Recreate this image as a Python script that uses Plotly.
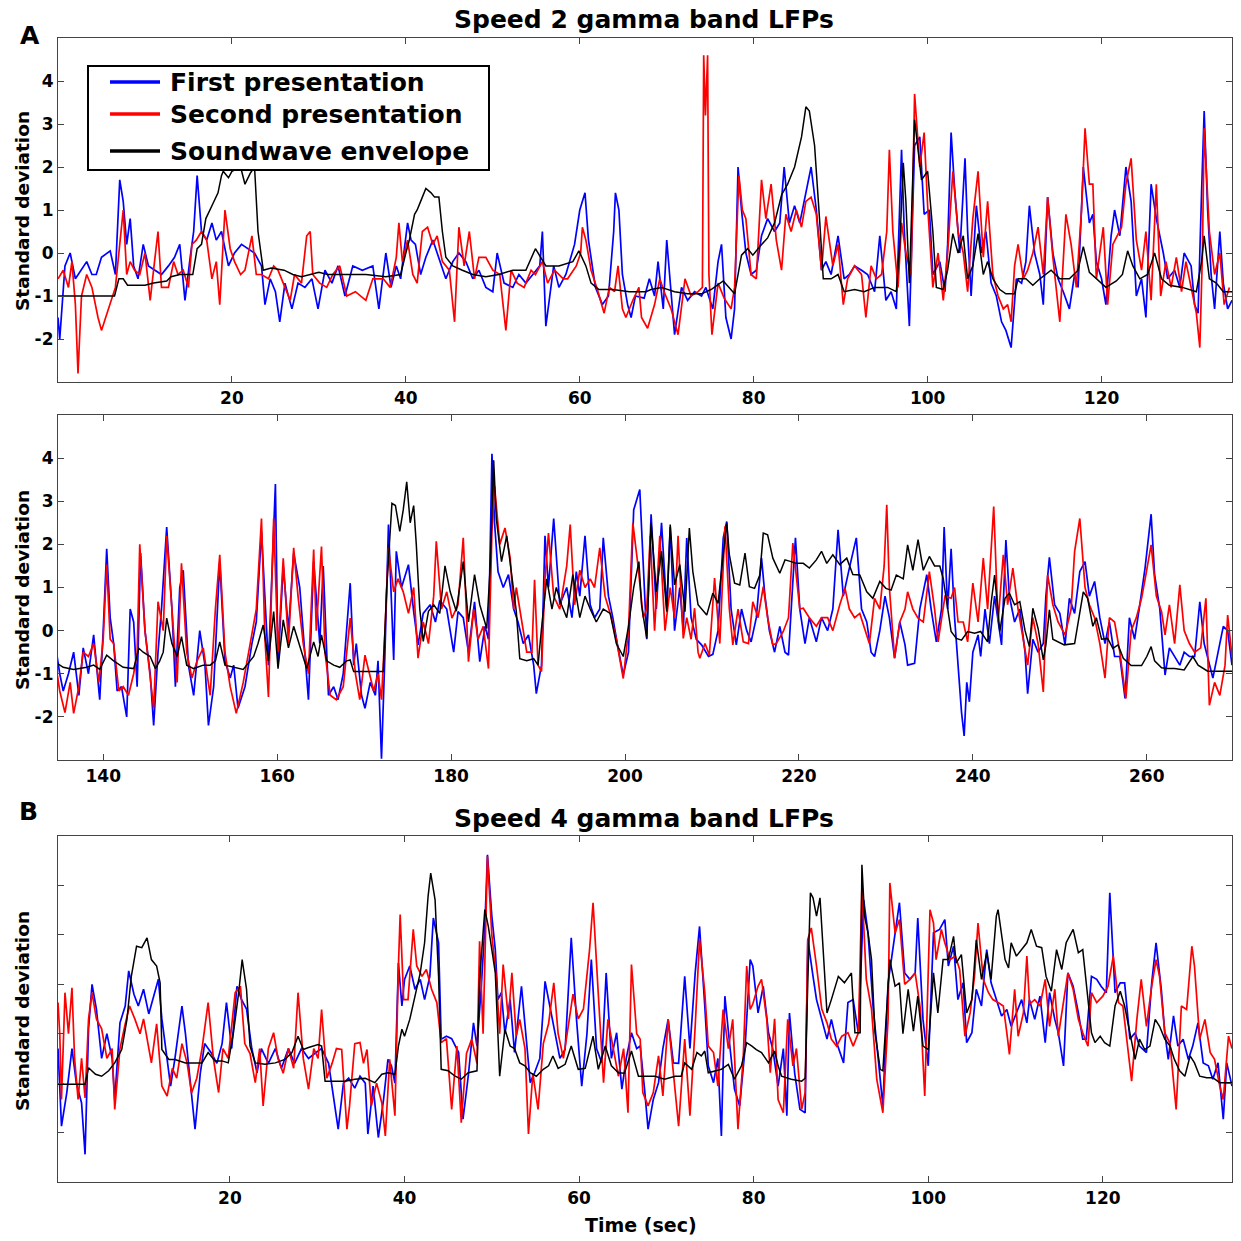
import plotly.graph_objects as go

# ---------------- data (time in sec, value in standard deviations) ----------------
S2A_BLUE = [(0.0,-1.5),(0.2,-2.0),(0.8,-0.3),(1.4,0.0),(2.0,-0.6),(2.7,-0.4),(3.3,-0.2),(3.9,-0.5),(4.4,-0.5),(5.0,-0.1),(6.0,0.05),(6.6,-0.5),(7.1,1.7),(7.5,1.2),(7.9,0.2),(8.3,0.8),(8.7,-0.3),(9.2,-0.6),(9.8,0.2),(10.4,-0.3),(11.1,-0.4),(11.9,-0.5),(12.7,-0.3),(13.4,-0.1),(14.0,0.2),(14.6,-1.1),(15.2,-0.1),(15.6,0.5),(16.0,1.8),(16.5,0.5),(17.1,0.3),(17.7,0.7),(18.2,0.3),(18.8,0.5),(19.6,-0.3),(20.3,0.0),(21.1,0.2),(21.9,0.1),(22.6,0.0),(23.4,-0.3),(23.8,-1.2),(24.4,-0.6),(25.0,-0.9),(25.5,-1.6),(26.1,-0.7),(26.9,-1.3),(27.6,-0.7),(28.4,-0.8),(29.2,-0.6),(29.9,-1.3),(30.7,-0.4),(31.5,-0.7),(32.2,-0.3),(33.0,-1.0),(33.9,-0.3),(35.0,-0.4),(36.2,-0.3),(36.9,-1.3),(37.7,0.0),(38.3,-0.8),(38.9,-0.3),(39.4,-0.6),(40.2,0.7),(40.6,0.3),(41.1,0.2),(41.7,-0.5),(42.3,-0.1),(43.1,0.3),(43.8,-0.1),(44.6,-0.6),(45.4,-0.2),(46.1,0.0),(46.9,-0.2),(47.7,-0.6),(48.4,-0.4),(49.2,-0.8),(50.0,-0.9),(50.5,0.0),(51.3,-0.7),(52.3,-0.8),(53.0,-0.5),(53.8,-0.7),(54.6,-0.5),(55.4,-0.3),(55.7,0.5),(56.1,-1.7),(57.0,-0.3),(57.6,-0.8),(58.4,-0.5),(59.4,0.2),(60.0,1.0),(60.6,1.4),(61.0,0.3),(61.8,-0.8),(62.6,-1.2),(63.3,-1.0),(63.9,0.5),(64.1,1.4),(64.5,1.0),(64.9,-0.5),(65.5,-1.2),(65.9,-1.5),(66.4,-1.0),(67.4,-1.05),(68.0,-0.6),(68.6,-1.0),(69.0,-0.2),(69.6,-1.3),(70.0,0.3),(70.5,-1.0),(70.9,-1.9),(71.7,-0.8),(72.4,-1.1),(73.2,-0.9),(74.0,-1.0),(74.5,-0.8),(75.3,-1.3),(75.9,-0.2),(76.3,0.2),(76.8,-1.5),(77.4,-2.0),(77.8,-1.3),(78.2,2.0),(78.6,1.0),(79.1,0.0),(79.7,-0.5),(80.3,-0.4),(80.9,0.4),(81.6,0.8),(82.4,0.5),(83.0,0.7),(83.5,2.0),(84.1,0.7),(84.7,1.1),(85.3,0.7),(85.8,1.2),(86.6,2.0),(87.2,1.0),(87.8,-0.4),(88.3,-0.2),(88.9,-0.5),(89.7,0.4),(90.4,-0.6),(91.0,-0.5),(91.6,-0.3),(92.4,-0.4),(93.1,-0.5),(93.9,-0.9),(94.5,0.4),(95.2,-1.1),(95.8,-0.9),(96.4,-1.3),(97.0,2.4),(97.3,0.6),(97.9,-1.7),(98.5,2.5),(99.1,2.7),(99.6,0.9),(100.2,1.0),(100.6,-0.5),(101.4,-0.2),(102.0,-0.9),(102.3,0.2),(102.7,2.8),(103.1,1.5),(103.7,0.0),(104.3,2.2),(104.6,0.5),(105.0,-1.0),(105.6,1.1),(106.2,0.0),(106.7,0.5),(107.3,-0.7),(107.9,-1.0),(108.5,-1.6),(109.0,-1.8),(109.6,-2.2),(110.2,-0.6),(110.8,-0.7),(111.3,-0.2),(111.7,1.1),(112.3,0.0),(112.9,-0.5),(113.3,-1.2),(113.8,1.3),(114.4,0.0),(115.0,-0.6),(115.6,-0.9),(116.3,-1.3),(116.9,-0.5),(117.3,-0.8),(117.9,2.0),(118.6,0.7),(119.0,0.9),(119.4,-0.2),(120.0,-0.6),(120.5,-1.2),(121.1,0.4),(121.5,1.0),(122.1,0.4),(122.8,2.0),(123.4,1.2),(124.0,-1.0),(124.6,-0.6),(125.1,-1.5),(125.7,1.6),(126.3,0.8),(127.1,0.0),(127.6,-0.6),(128.4,-0.4),(129.0,-0.8),(129.5,0.0),(130.3,-0.3),(130.7,-1.2),(131.1,-1.4),(131.5,1.4),(131.8,3.3),(132.2,1.0),(132.6,-0.5),(133.0,-1.3),(133.6,0.5),(134.0,-0.7),(134.5,-1.3),(135.0,-1.1)]

S2A_RED = [(0.0,-0.6),(0.6,-0.4),(1.2,-0.8),(1.6,-0.2),(2.0,-1.2),(2.3,-2.8),(2.7,-1.0),(3.3,-0.5),(3.9,-0.8),(4.6,-1.5),(5.0,-1.8),(5.8,-1.3),(6.6,-0.8),(7.1,0.2),(7.5,1.0),(7.9,-0.5),(8.3,-0.2),(8.8,-0.4),(9.4,-0.5),(10.0,0.0),(10.6,-1.1),(11.1,-0.2),(11.5,0.5),(11.9,-0.8),(12.7,-0.8),(13.3,-0.2),(13.8,-0.5),(14.4,-0.4),(15.0,-0.8),(15.4,0.2),(15.9,0.3),(16.5,0.5),(17.1,0.3),(17.7,-0.6),(18.2,-0.2),(18.6,-1.2),(19.2,1.0),(19.8,0.1),(20.3,-0.2),(21.0,-0.5),(21.5,-0.4),(22.3,0.4),(22.8,-0.5),(23.4,-0.5),(24.2,-0.6),(24.8,-0.3),(25.3,-0.4),(26.1,-0.8),(26.7,-1.1),(27.2,-0.5),(28.0,-0.7),(28.6,0.4),(29.0,0.5),(29.3,-0.5),(30.1,-0.7),(30.9,-0.8),(31.6,-0.5),(32.4,-0.3),(33.2,-1.0),(34.2,-0.9),(35.4,-1.1),(36.2,-0.6),(37.4,-0.6),(38.2,-0.8),(38.9,-0.1),(39.2,0.7),(39.6,-0.2),(40.2,0.3),(40.8,-0.5),(41.3,-0.7),(41.9,0.5),(42.5,0.6),(43.1,0.2),(43.6,0.4),(44.2,-0.2),(45.0,-0.4),(45.6,-1.6),(46.1,0.6),(46.7,-0.3),(47.3,0.5),(47.9,-0.6),(48.4,-0.1),(49.2,-0.1),(50.0,-0.4),(50.8,-0.5),(51.5,-1.8),(52.1,-0.4),(52.8,-0.7),(53.6,-0.8),(54.4,-0.4),(54.9,-0.5),(55.7,-0.2),(56.3,-0.7),(57.1,-0.4),(58.1,-0.6),(58.6,-0.6),(59.6,-0.3),(60.1,0.0),(60.3,0.6),(60.7,0.3),(61.3,-0.4),(62.1,-0.9),(62.8,-1.4),(63.4,-0.8),(64.0,-0.9),(64.4,-0.3),(64.9,-1.3),(65.3,-1.5),(66.1,-1.1),(66.8,-0.8),(67.1,-1.5),(67.8,-1.75),(68.6,-1.2),(69.2,-0.6),(69.7,-0.9),(70.5,-1.3),(71.3,-1.9),(72.1,-0.6),(72.8,-1.0),(73.6,-0.9),(74.1,-0.8),(74.25,4.6),(74.45,3.2),(74.7,4.6),(74.85,-0.5),(75.2,-1.9),(75.9,-0.7),(76.6,-1.05),(77.4,-1.3),(77.8,-0.8),(78.3,1.8),(78.7,1.0),(79.1,0.8),(79.7,-0.5),(80.3,-0.6),(80.9,1.7),(81.4,0.8),(82.0,1.6),(82.6,0.3),(83.2,-0.4),(83.7,0.9),(84.3,0.5),(84.9,1.0),(85.5,0.6),(86.0,1.2),(86.6,1.3),(87.2,0.9),(87.8,-0.4),(88.3,0.85),(89.1,-0.3),(89.7,0.2),(90.3,-1.2),(90.8,-0.6),(91.6,-0.3),(92.4,-0.5),(92.9,-1.5),(93.5,-0.3),(94.1,-0.6),(94.7,-0.5),(95.3,0.5),(95.6,2.4),(96.0,0.5),(96.6,-0.8),(97.0,0.7),(97.5,0.0),(98.1,-0.5),(98.5,3.7),(99.1,2.0),(99.6,2.8),(100.0,1.1),(100.6,-0.8),(101.2,0.0),(101.8,-1.1),(102.3,0.0),(102.9,1.9),(103.5,0.5),(104.1,0.0),(104.6,-0.9),(105.2,0.8),(105.8,1.9),(106.4,-0.1),(106.9,1.2),(107.5,-0.5),(108.1,-1.0),(108.7,-1.3),(109.2,-1.2),(109.6,-1.6),(110.0,-0.3),(110.4,0.2),(111.0,-0.6),(111.5,-0.4),(112.1,0.0),(112.7,0.6),(113.3,-0.5),(113.8,1.3),(114.4,-0.1),(115.2,-1.6),(115.9,0.9),(116.5,0.2),(117.1,-0.8),(117.7,1.0),(118.1,2.9),(118.6,1.6),(119.0,1.6),(119.4,-0.6),(120.2,0.6),(120.7,-1.2),(121.3,0.2),(122.3,0.6),(122.8,1.6),(123.4,2.2),(124.0,0.3),(124.6,-0.4),(125.1,0.5),(125.7,-1.1),(126.3,1.6),(126.8,-1.0),(127.4,-0.2),(128.0,-0.8),(128.6,-0.1),(129.2,-0.9),(129.7,-0.2),(130.3,-0.8),(130.9,-1.4),(131.3,-2.2),(131.6,0.0),(131.8,2.9),(132.4,0.5),(133.0,-0.5),(133.6,0.0),(134.1,-1.2),(134.7,-0.8)]

S2A_ENV = [(0.0,-1.0),(6.5,-1.0),(7.0,-0.6),(7.5,-0.6),(8.0,-0.75),(10.0,-0.75),(11.0,-0.7),(12.5,-0.65),(13.0,-0.55),(14.0,-0.5),(15.5,-0.5),(16.0,0.1),(16.5,0.2),(17.0,0.8),(17.7,1.1),(18.4,1.4),(18.8,1.8),(19.0,1.9),(19.6,1.75),(20.0,1.9),(21.0,2.0),(21.5,1.6),(22.1,1.85),(22.6,2.0),(23.0,0.5),(23.6,-0.4),(24.5,-0.35),(26.0,-0.4),(27.0,-0.5),(28.0,-0.55),(29.0,-0.5),(30.0,-0.45),(31.0,-0.5),(32.0,-0.5),(33.1,-0.5),(35.4,-0.5),(37.7,-0.55),(39.4,-0.5),(40.0,0.0),(40.4,0.3),(41.0,0.9),(41.3,1.0),(41.7,1.2),(42.3,1.5),(42.9,1.4),(43.3,1.3),(43.8,1.3),(44.2,0.5),(44.6,-0.1),(45.4,-0.3),(46.5,-0.4),(47.7,-0.5),(49.2,-0.55),(50.7,-0.5),(52.3,-0.4),(53.8,-0.4),(54.9,0.1),(56.1,-0.3),(57.6,-0.3),(59.2,-0.2),(59.9,0.05),(60.7,-0.3),(61.3,-0.7),(62.2,-0.85),(63.8,-0.85),(65.7,-0.9),(67.6,-0.9),(68.2,-0.85),(69.4,-0.8),(70.9,-0.9),(72.4,-0.95),(74.0,-0.95),(75.1,-0.85),(76.5,-0.65),(77.8,-0.95),(78.6,-0.05),(79.3,0.1),(79.9,-0.05),(80.7,0.15),(81.6,0.35),(82.4,0.7),(83.2,1.35),(83.9,1.6),(84.7,2.0),(85.5,2.7),(86.0,3.4),(86.4,3.3),(87.0,2.5),(87.6,0.7),(88.0,-0.6),(88.9,-0.6),(89.7,-0.5),(90.4,-0.9),(91.6,-0.85),(92.7,-0.9),(93.9,-0.8),(95.4,-0.8),(96.4,-0.9),(96.8,0.2),(97.2,2.1),(97.5,1.2),(97.9,-0.7),(98.5,3.1),(99.3,1.7),(100.0,1.9),(100.6,0.5),(101.0,-0.8),(101.8,-0.85),(102.3,-0.4),(102.9,0.45),(103.5,0.0),(104.1,0.4),(104.6,-0.6),(105.2,-0.3),(105.8,0.45),(106.4,-0.5),(106.9,-0.2),(107.5,-0.6),(108.3,-0.85),(109.0,-0.95),(110.0,-0.95),(110.4,-0.6),(111.3,-0.6),(112.1,-0.75),(112.9,-0.6),(114.2,-0.4),(115.2,-0.6),(116.3,-0.6),(117.3,-0.4),(117.9,0.15),(118.6,-0.45),(119.4,-0.6),(120.5,-0.8),(121.7,-0.65),(122.4,-0.5),(123.0,0.05),(123.6,-0.3),(124.4,-0.6),(125.3,-0.5),(126.1,0.0),(126.9,-0.6),(127.8,-0.75),(129.3,-0.8),(130.9,-0.9),(131.5,-0.2),(131.8,0.4),(132.4,-0.6),(133.2,-0.7),(134.0,-0.9),(135.0,-0.9)]

S2B_BLUE = [(134.7,-0.6),(135.0,-1.0),(135.4,-1.4),(136.0,-1.0),(136.6,-0.5),(137.2,-1.5),(137.7,-0.4),(138.3,-1.0),(138.9,-0.1),(139.6,-1.6),(140.0,0.0),(140.4,1.9),(140.8,0.3),(141.2,-0.3),(141.6,-1.4),(142.1,-1.3),(142.7,-2.0),(143.1,0.5),(143.5,0.2),(143.9,-1.3),(144.3,1.8),(144.8,0.0),(145.4,-1.0),(145.8,-2.2),(146.3,-0.5),(146.7,0.5),(147.3,2.4),(147.9,0.5),(148.3,-1.3),(148.8,1.0),(149.2,1.4),(149.8,-0.8),(150.4,-1.5),(151.1,0.0),(151.7,-0.8),(152.1,-2.2),(152.7,-1.3),(153.4,1.6),(154.0,-0.7),(154.6,-1.1),(155.0,-0.8),(155.5,-1.8),(156.3,-1.3),(157.1,-0.3),(157.6,0.2),(158.2,2.3),(159.0,-0.8),(159.8,3.4),(160.1,-0.8),(160.7,1.5),(161.3,0.0),(161.9,1.8),(162.6,1.0),(163.2,-0.5),(163.6,-1.6),(164.2,1.6),(164.9,-0.3),(165.3,1.5),(165.9,-1.5),(166.5,-1.3),(167.0,-1.6),(167.6,-1.0),(168.4,1.1),(168.8,-0.8),(169.1,-0.3),(169.7,-1.5),(170.1,-1.8),(170.7,-1.2),(171.3,-1.5),(171.6,-0.7),(172.0,-2.97),(172.4,-0.5),(172.8,2.46),(173.4,-0.68),(173.7,1.84),(174.3,1.0),(175.1,1.53),(175.7,0.44),(176.2,-0.33),(176.8,0.4),(177.6,0.6),(178.2,0.2),(178.7,0.7),(179.5,0.5),(180.3,-0.5),(180.8,0.44),(181.4,0.3),(182.0,-0.5),(182.7,0.67),(183.3,-0.72),(183.9,0.1),(184.3,-0.2),(184.7,4.1),(185.0,2.5),(185.4,1.37),(186.0,1.0),(186.6,1.3),(187.2,0.5),(187.7,0.2),(188.3,-0.3),(188.9,-0.1),(189.5,-0.8),(189.8,-1.46),(190.4,-0.8),(190.8,2.2),(191.2,1.0),(191.8,2.6),(192.5,0.6),(193.3,1.0),(193.9,0.3),(194.4,1.37),(194.8,0.8),(195.4,2.2),(196.0,0.6),(196.5,0.3),(197.1,0.5),(197.5,2.15),(198.1,0.8),(198.6,0.3),(199.2,-0.4),(199.8,-1.03),(200.4,-0.5),(201.0,2.8),(201.7,3.27),(202.1,1.5),(202.5,-0.2),(203.0,2.7),(203.6,0.5),(204.2,2.5),(204.8,0.5),(205.2,2.4),(205.7,0.0),(206.3,1.0),(206.7,0.0),(207.1,2.15),(207.6,0.3),(208.2,-0.2),(208.8,-0.33),(209.6,-0.6),(210.1,-0.55),(210.7,0.0),(211.3,2.15),(211.7,2.53),(212.2,0.5),(212.8,-0.33),(213.4,0.5),(214.0,0.0),(214.5,-0.26),(215.1,0.3),(215.7,1.68),(216.1,0.8),(216.6,0.0),(217.2,-0.5),(217.8,0.1),(218.4,-0.5),(218.8,-0.57),(219.6,2.15),(220.1,0.5),(220.7,-0.3),(221.2,0.3),(222.0,-0.26),(222.6,0.3),(223.3,0.0),(223.9,0.5),(224.5,2.34),(225.1,0.8),(225.8,1.45),(226.6,2.15),(227.2,0.5),(227.8,0.2),(228.3,-0.5),(228.7,-0.6),(229.3,0.0),(229.9,0.8),(230.4,0.3),(231.0,-0.64),(231.6,0.2),(232.2,-0.33),(232.5,-0.8),(233.3,-0.76),(233.9,0.5),(234.7,1.3),(235.2,0.5),(235.8,-0.26),(236.4,0.5),(236.7,2.4),(237.1,0.5),(237.5,1.9),(237.9,0.3),(238.3,-0.8),(238.7,-1.9),(239.0,-2.44),(239.3,-1.2),(239.6,-1.65),(240.0,-0.5),(240.6,-0.1),(240.9,-0.6),(241.4,0.5),(241.9,-0.3),(242.5,0.8),(243.3,-0.33),(243.8,2.1),(244.2,0.8),(244.8,0.2),(245.4,0.5),(246.0,-0.5),(246.3,-1.46),(246.9,-0.2),(247.5,-0.5),(248.1,-0.3),(248.4,0.8),(248.8,1.7),(249.4,0.6),(250.0,0.4),(250.6,-0.33),(251.1,0.75),(251.7,0.4),(252.3,1.37),(252.9,1.6),(253.4,0.8),(254.0,1.14),(254.6,0.3),(255.2,-0.3),(255.7,0.2),(256.3,-0.6),(256.9,-0.6),(257.5,-1.57),(258.0,0.3),(258.6,-0.2),(259.2,0.6),(259.8,1.45),(260.5,2.7),(260.9,1.3),(261.5,0.5),(262.1,-1.03),(262.6,-0.4),(263.2,-0.6),(263.8,-0.8),(264.3,-0.5),(264.9,-0.6),(265.5,-0.6),(266.1,0.67),(266.6,-0.3),(267.2,-0.8),(267.6,-1.1),(268.2,-0.5),(268.8,0.1),(269.3,0.0),(269.8,-0.8)]

S2B_RED = [(134.7,-1.0),(135.0,-1.4),(135.6,-1.9),(136.2,-1.2),(136.6,-1.92),(137.2,-1.3),(137.7,-0.5),(138.3,-0.6),(138.9,-0.3),(139.5,-1.2),(140.0,-0.2),(140.4,1.53),(140.8,-0.2),(141.2,-0.3),(141.8,-1.4),(142.3,-1.3),(142.9,-1.5),(143.5,-1.0),(143.9,-0.5),(144.2,2.0),(144.8,0.0),(145.4,-1.0),(145.8,-1.8),(146.3,0.67),(146.9,0.0),(147.3,2.2),(147.9,0.5),(148.5,-1.2),(149.0,1.56),(149.6,-0.5),(150.2,-1.1),(150.8,-0.7),(151.5,-0.4),(152.3,-1.5),(152.9,0.5),(153.4,1.76),(154.0,-0.5),(154.6,-1.3),(155.3,-1.92),(156.1,-1.2),(156.9,-0.3),(157.6,0.5),(158.2,2.6),(158.6,-0.2),(159.0,-1.54),(159.6,2.6),(160.1,-0.5),(160.7,1.68),(161.3,-0.3),(161.9,1.92),(162.4,0.8),(163.0,-0.3),(163.6,-1.0),(164.2,1.88),(164.5,0.0),(165.1,1.95),(165.5,-0.5),(166.1,-1.5),(166.8,-1.6),(167.6,-1.3),(168.4,0.29),(169.0,-1.0),(169.5,-1.6),(170.1,-0.57),(170.5,-0.9),(171.1,-1.4),(171.6,-1.0),(172.0,-1.6),(172.4,0.0),(172.8,1.92),(173.4,0.9),(173.9,1.2),(174.5,0.9),(175.1,0.4),(175.7,1.0),(176.2,-0.64),(176.8,0.2),(177.4,-0.3),(178.0,0.8),(178.3,2.07),(178.9,0.5),(179.5,0.9),(180.1,0.29),(180.8,0.6),(181.4,2.15),(182.0,-0.72),(182.6,0.5),(183.1,-0.2),(183.7,0.1),(184.3,-0.88),(184.7,2.3),(185.0,3.35),(185.6,2.0),(186.2,2.38),(186.8,1.68),(187.2,0.5),(187.5,1.0),(188.1,0.3),(188.7,-0.5),(189.3,-0.5),(189.6,1.18),(190.0,-0.8),(190.4,-0.95),(190.8,1.2),(191.2,2.26),(191.8,0.8),(192.5,0.5),(193.3,1.5),(193.7,2.46),(194.2,0.6),(194.8,1.4),(195.4,1.0),(196.0,1.2),(196.5,1.0),(197.1,1.92),(197.7,0.8),(198.3,0.4),(199.0,-0.2),(199.8,-1.11),(200.4,0.0),(200.9,2.5),(201.5,1.5),(202.1,0.3),(202.5,0.5),(202.9,2.2),(203.4,0.0),(204.0,2.2),(204.6,0.0),(205.2,1.0),(205.7,0.3),(206.1,2.2),(206.7,-0.18),(207.1,0.3),(207.6,-0.2),(208.0,0.52),(208.4,-0.5),(208.6,-0.64),(209.2,-0.3),(209.7,-0.57),(210.3,1.22),(210.9,-0.3),(211.5,2.42),(212.0,0.5),(212.4,-0.33),(213.0,0.5),(213.6,-0.26),(214.2,-0.3),(214.7,0.67),(215.3,0.3),(215.9,1.02),(216.4,0.3),(217.0,-0.33),(217.4,-0.3),(218.2,-0.02),(218.8,0.3),(219.3,2.03),(220.1,0.5),(220.5,0.52),(221.2,0.3),(222.0,0.1),(222.6,0.3),(223.3,0.3),(223.9,0.0),(224.7,0.6),(225.3,0.98),(225.8,0.5),(226.4,0.3),(227.0,0.4),(227.6,0.0),(228.1,-0.3),(228.7,0.75),(229.3,0.5),(229.8,1.5),(230.1,2.92),(230.4,1.0),(231.0,-0.64),(231.6,0.2),(232.2,0.5),(232.5,0.9),(233.1,0.5),(233.7,0.29),(234.3,0.2),(235.0,1.37),(235.6,0.5),(236.0,-0.26),(236.8,0.8),(237.5,0.75),(237.9,1.0),(238.3,0.2),(238.9,0.2),(239.4,-0.26),(240.0,1.1),(240.6,0.2),(241.2,1.68),(241.7,0.5),(242.4,2.88),(242.9,0.2),(243.5,1.76),(244.0,0.6),(244.6,1.45),(245.2,0.5),(245.8,-0.2),(246.3,-0.8),(246.9,0.3),(247.5,-0.3),(248.1,-1.42),(248.6,1.29),(249.2,0.6),(249.8,0.2),(250.6,-0.1),(251.3,0.5),(251.7,1.83),(252.3,2.6),(252.9,1.0),(253.4,0.6),(254.0,0.3),(254.6,-0.3),(255.2,-1.1),(255.7,0.3),(256.3,0.2),(256.9,-0.5),(257.6,-1.57),(258.2,0.0),(258.8,0.3),(259.4,0.75),(259.9,1.3),(260.5,1.99),(261.1,0.8),(261.7,0.44),(262.1,-0.1),(262.6,0.6),(263.2,-0.3),(263.8,1.06),(264.3,0.0),(264.9,-0.3),(265.5,-0.5),(266.2,-0.4),(266.8,0.75),(267.2,-1.73),(267.8,-1.2),(268.4,-1.5),(269.0,-0.8),(269.3,0.36),(269.8,-0.6)]

S2B_ENV = [(134.7,-0.76),(135.4,-0.85),(136.6,-0.9),(138.1,-0.85),(138.9,-0.8),(139.6,-0.9),(140.4,-0.57),(141.2,-0.7),(142.3,-0.85),(143.5,-0.88),(144.1,-0.41),(144.6,-0.5),(145.4,-0.6),(146.0,-0.88),(146.5,-0.7),(146.9,-0.5),(147.3,0.29),(147.9,-0.3),(148.5,-0.6),(149.0,-0.14),(149.6,-0.8),(150.4,-0.88),(151.5,-0.8),(152.3,-0.8),(152.9,-0.7),(153.4,-0.26),(154.0,-0.8),(155.0,-0.85),(156.1,-0.9),(157.3,-0.6),(157.8,-0.3),(158.4,0.13),(159.0,-0.7),(159.6,0.44),(160.1,-0.88),(160.7,0.25),(161.3,-0.4),(161.9,0.1),(162.6,-0.37),(163.4,-0.88),(164.2,-0.26),(164.7,-0.6),(165.1,-0.1),(165.7,-0.7),(166.5,-0.8),(167.2,-0.85),(168.0,-0.7),(168.4,-0.68),(168.8,-0.95),(172.2,-0.95),(172.6,1.0),(173.2,2.95),(173.6,2.9),(174.1,2.3),(174.5,2.8),(174.9,3.45),(175.3,2.5),(175.7,2.9),(176.0,2.0),(176.4,0.5),(176.8,-0.25),(177.4,0.45),(178.0,0.6),(178.7,0.4),(179.3,1.5),(179.9,0.9),(180.6,0.45),(181.4,1.6),(182.0,0.2),(182.7,1.3),(183.3,0.6),(184.1,0.05),(184.5,1.5),(184.9,3.95),(185.2,2.6),(185.8,1.6),(186.4,2.2),(187.0,1.2),(187.5,0.45),(187.9,-0.65),(188.7,-0.7),(189.5,-0.65),(190.0,-0.8),(190.4,0.05),(191.0,1.2),(191.6,0.5),(192.1,1.0),(192.7,0.6),(193.3,0.3),(194.0,1.3),(194.8,0.3),(195.4,0.8),(196.0,0.5),(196.7,0.2),(197.5,0.5),(198.3,0.4),(199.0,-0.3),(199.8,-0.6),(200.4,0.1),(201.0,1.0),(201.6,1.6),(201.9,0.6),(202.5,-0.18),(203.0,2.5),(203.6,0.9),(204.2,1.84),(204.8,0.44),(205.2,2.46),(205.7,1.06),(206.3,1.53),(206.9,0.44),(207.4,2.38),(207.8,1.37),(208.4,0.6),(209.0,0.44),(209.4,0.36),(210.1,0.87),(210.7,0.63),(211.3,1.76),(211.7,2.5),(212.0,1.76),(212.6,1.1),(213.2,1.06),(213.8,1.8),(214.3,1.02),(214.9,0.98),(215.5,1.29),(215.9,2.26),(216.4,2.22),(217.0,1.68),(217.8,1.33),(218.4,1.64),(219.1,1.6),(219.7,1.56),(220.5,1.56),(221.2,1.45),(222.0,1.64),(222.6,1.84),(223.2,1.56),(223.9,1.76),(224.7,1.53),(225.5,1.68),(226.2,1.3),(227.0,1.29),(227.8,0.9),(228.5,0.75),(229.3,1.14),(230.0,0.98),(230.6,0.94),(231.2,1.29),(232.0,1.2),(232.5,1.99),(233.1,1.4),(233.7,2.11),(234.3,1.4),(235.0,1.72),(235.6,1.5),(236.2,1.5),(236.6,1.2),(237.0,0.6),(237.5,-0.02),(238.1,-0.18),(238.7,-0.22),(239.4,-0.02),(240.2,-0.06),(240.9,-0.02),(241.7,-0.26),(242.1,0.64),(242.5,1.29),(243.1,-0.02),(243.7,0.75),(244.2,0.87),(244.8,0.6),(245.4,0.67),(246.0,0.0),(246.5,-0.37),(246.9,0.52),(247.5,0.05),(248.1,-0.68),(248.4,-0.33),(248.8,0.48),(249.2,-0.2),(249.8,-0.26),(250.5,-0.33),(251.7,-0.3),(252.3,0.44),(252.7,0.9),(253.2,0.75),(253.8,0.1),(254.2,0.3),(254.8,-0.2),(255.5,-0.18),(256.1,-0.41),(256.7,-0.33),(257.3,-0.64),(258.2,-0.81),(259.4,-0.81),(260.0,-0.6),(260.5,-0.37),(260.9,-0.7),(261.7,-0.86),(262.4,-0.88),(263.2,-0.88),(264.3,-0.91),(265.3,-0.6),(265.9,-0.8),(267.0,-0.94),(268.2,-0.94),(269.8,-0.94)]

S4_BLUE = [(0.3,-0.3),(0.7,-1.87),(1.3,-1.2),(1.9,-0.3),(2.4,-1.0),(3.0,-1.4),(3.4,-2.44),(3.8,0.1),(4.2,1.0),(4.7,0.5),(5.3,-0.5),(5.9,0.0),(6.5,-0.5),(6.8,-1.33),(7.4,0.22),(8.0,0.56),(8.4,1.27),(9.0,0.8),(9.5,0.56),(10.1,0.9),(10.7,0.4),(11.2,0.7),(11.8,1.1),(12.2,0.3),(12.8,-0.5),(13.2,-1.06),(13.7,-0.5),(14.5,0.56),(14.9,0.0),(15.2,-0.5),(16.0,-1.93),(16.6,-0.8),(17.1,-0.2),(17.9,-0.4),(18.5,-0.6),(19.1,-0.2),(19.6,0.63),(20.2,-0.3),(20.8,0.96),(21.3,0.7),(21.9,0.5),(22.5,-0.3),(23.1,-0.79),(23.6,-0.3),(24.4,-0.6),(25.2,-0.3),(25.9,-0.7),(26.7,-0.3),(27.4,-0.6),(28.2,-0.3),(29.0,-0.5),(29.7,-0.4),(30.5,-0.3),(31.3,-0.6),(31.8,-1.19),(32.4,-1.93),(33.0,-1.0),(33.6,-0.9),(34.3,-1.1),(34.9,-0.86),(35.5,-1.0),(35.8,-2.03),(36.4,-1.06),(37.0,-2.1),(37.6,-1.33),(38.1,-0.52),(38.5,-0.65),(38.9,-1.0),(39.3,1.43),(39.7,0.56),(40.0,1.1),(40.6,1.37),(41.2,0.9),(41.8,1.1),(42.3,0.69),(42.9,1.16),(43.3,2.34),(43.9,1.84),(44.2,-0.11),(44.8,-0.05),(45.4,-0.1),(46.2,-0.38),(46.7,-1.73),(47.3,-0.86),(47.9,0.22),(48.3,-0.25),(48.8,0.96),(49.2,2.17),(49.5,3.62),(50.0,2.38),(50.4,1.7),(50.7,0.69),(51.1,0.83),(51.5,0.0),(52.1,0.69),(52.6,-0.38),(53.4,0.96),(54.0,-0.3),(54.4,-0.99),(54.9,-0.79),(55.5,-0.5),(56.1,1.06),(56.7,0.49),(57.2,0.0),(57.8,-0.5),(58.4,-0.32),(59.1,1.94),(59.7,0.3),(60.3,-1.06),(60.9,0.0),(61.4,1.5),(62.0,-0.3),(62.6,-0.59),(63.1,1.23),(63.7,-0.5),(64.3,0.02),(64.9,-1.12),(65.4,-0.5),(66.0,0.02),(66.6,-0.3),(67.0,-0.25),(67.5,-1.12),(67.9,-1.93),(68.5,-1.33),(69.1,-0.99),(69.6,-0.3),(70.2,0.29),(70.8,-0.59),(71.4,-0.6),(72.1,1.16),(72.7,-0.3),(73.3,1.23),(73.8,2.17),(74.4,0.56),(74.8,-0.65),(75.4,-0.99),(75.9,-0.5),(76.3,-2.07),(76.7,0.76),(77.3,-0.3),(77.8,-1.12),(78.4,-1.46),(79.0,-0.32),(79.6,1.5),(79.9,1.37),(80.5,0.42),(81.1,0.96),(81.7,0.02),(82.2,-0.32),(82.8,-1.06),(83.4,-0.3),(83.8,-1.66),(84.1,0.42),(84.7,-0.8),(85.3,-1.53),(85.9,-1.6),(86.2,1.91),(86.8,1.16),(87.2,0.69),(87.8,0.29),(88.4,-0.11),(88.9,0.29),(89.5,-0.18),(90.3,-0.59),(90.8,0.63),(91.4,0.69),(92.0,0.0),(92.6,2.71),(93.1,2.04),(93.7,0.5),(94.3,-0.65),(94.8,-1.46),(95.4,1.03),(96.0,1.77),(96.7,2.65),(97.3,1.23),(97.9,1.1),(98.5,1.23),(98.8,2.34),(99.4,0.29),(100.0,-0.65),(100.6,2.04),(101.3,2.11),(101.9,2.31),(102.3,1.37),(102.9,1.77),(103.4,0.69),(104.0,1.03),(104.4,-0.18),(105.0,0.02),(105.5,0.9),(106.1,0.56),(106.7,1.7),(107.2,1.03),(107.8,0.69),(108.4,0.36),(109.0,0.49),(109.5,0.15),(110.1,0.42),(110.7,0.69),(111.3,0.22),(111.6,0.69),(112.2,0.29),(112.8,0.76),(113.4,-0.18),(113.9,0.83),(114.5,0.29),(114.9,0.02),(115.5,-0.65),(116.0,1.23),(116.6,0.96),(117.2,0.42),(117.7,-0.11),(118.1,-0.11),(118.7,1.16),(119.3,1.1),(119.8,0.96),(120.4,0.83),(120.8,2.85),(121.4,0.83),(122.0,1.03),(122.5,1.03),(123.1,-0.11),(123.7,0.02),(124.2,-0.25),(125.0,-0.38),(125.6,1.03),(126.1,1.84),(126.7,0.9),(127.1,0.02),(127.5,-0.52),(128.1,0.36),(128.6,-0.25),(129.2,-0.11),(129.8,-0.52),(130.3,-0.25),(130.9,0.22),(131.5,-0.59),(132.1,-0.65),(132.6,-0.92),(133.2,-0.59),(133.8,-1.73),(134.2,-0.59),(134.8,-1.06)]

S4_RED = [(0.3,0.63),(0.5,0.0),(0.7,-1.33),(1.1,0.83),(1.5,0.0),(1.9,0.93),(2.2,-0.5),(2.6,-1.33),(3.0,-0.5),(3.4,-1.3),(3.8,0.3),(4.2,0.83),(4.7,0.3),(5.3,0.1),(5.9,-0.5),(6.5,-0.3),(6.8,-1.53),(7.4,-0.3),(8.0,0.2),(8.5,0.56),(9.1,0.3),(9.7,0.0),(10.1,0.3),(10.7,-0.3),(11.0,-0.59),(11.6,0.2),(12.2,-1.06),(12.8,-1.26),(13.4,-0.7),(13.9,-0.9),(14.5,-0.2),(15.1,-0.6),(15.6,-1.2),(16.2,-0.9),(16.8,-0.3),(17.5,0.63),(18.1,-0.5),(18.7,-1.19),(19.2,-0.3),(19.8,-0.5),(20.6,0.83),(21.2,0.96),(21.7,-0.2),(22.3,-0.4),(22.9,-0.99),(23.4,-0.3),(23.8,-1.46),(24.4,-0.3),(25.0,0.02),(25.5,-0.5),(26.1,-0.8),(26.7,-0.3),(27.3,-0.7),(27.8,0.83),(28.4,-0.5),(29.0,-1.12),(29.6,-0.3),(30.1,-0.5),(30.5,0.49),(31.1,-0.9),(31.7,-0.6),(32.2,-0.3),(32.8,-0.32),(33.4,-1.93),(33.7,-1.46),(34.3,-0.2),(34.9,-0.18),(35.3,-0.6),(35.7,-0.32),(36.2,-1.46),(36.8,-1.0),(37.4,-1.4),(37.8,-2.07),(38.3,-0.52),(38.9,-1.66),(39.3,1.37),(39.5,2.41),(39.9,0.69),(40.4,0.69),(41.0,2.11),(41.4,1.37),(42.0,1.16),(42.5,1.3),(43.1,0.9),(43.7,0.63),(44.2,-0.18),(44.8,-0.1),(45.4,-1.53),(46.0,-0.25),(46.5,-1.8),(47.1,-0.4),(47.7,-0.11),(48.3,-0.6),(48.6,1.87),(49.0,0.0),(49.5,3.59),(50.0,2.0),(50.5,1.16),(50.9,0.0),(51.3,1.4),(51.9,0.3),(52.3,1.23),(52.8,-0.05),(53.2,0.29),(53.8,-0.3),(54.2,-2.03),(54.7,-0.8),(55.3,-1.53),(55.9,-0.2),(56.5,0.2),(57.1,1.03),(57.6,0.0),(58.2,-0.5),(58.8,0.2),(59.3,0.8),(59.9,0.3),(60.5,0.5),(61.2,1.7),(61.6,2.65),(62.2,0.8),(62.8,-0.99),(63.3,0.29),(63.9,-0.3),(64.5,-0.86),(65.1,-0.3),(65.6,-1.6),(66.0,1.4),(66.6,0.0),(67.0,-0.11),(67.3,-1.19),(67.9,-1.46),(68.5,-1.19),(69.1,-0.45),(69.6,-1.26),(70.2,0.29),(70.8,-0.79),(71.4,-1.87),(72.1,-0.11),(72.7,-1.66),(73.3,0.15),(73.8,1.91),(74.4,0.83),(74.8,-0.25),(75.4,-0.38),(75.9,-1.06),(76.5,0.49),(77.1,-0.3),(77.6,0.29),(78.2,-1.93),(78.8,-0.5),(79.2,1.37),(79.6,0.49),(79.9,0.6),(80.5,0.96),(80.9,1.1),(81.5,0.29),(81.9,-0.79),(82.4,0.3),(82.8,-1.33),(83.4,-1.6),(83.9,0.29),(84.5,-0.65),(84.9,-0.3),(85.5,-1.53),(85.9,-1.19),(86.2,1.91),(86.6,2.14),(87.2,1.37),(87.8,0.5),(88.4,0.22),(88.9,-0.11),(89.5,-0.25),(90.1,-0.05),(90.8,0.02),(91.4,-0.25),(92.0,0.02),(92.4,2.98),(92.9,1.1),(93.5,0.5),(94.1,-0.92),(94.8,-1.6),(95.4,0.3),(95.6,3.05),(96.2,2.04),(96.7,2.31),(97.3,1.0),(97.9,1.1),(98.5,1.23),(99.1,0.5),(99.6,-1.26),(100.2,2.51),(100.6,2.24),(100.9,1.5),(101.5,2.11),(101.9,1.84),(102.5,1.5),(103.1,1.57),(103.6,1.3),(104.2,-0.05),(104.8,0.42),(105.3,1.16),(105.7,2.24),(106.3,1.1),(106.9,0.83),(107.4,0.69),(108.0,0.63),(108.6,0.56),(109.0,0.02),(109.3,-0.42),(109.9,0.9),(110.3,-0.05),(110.9,0.42),(111.3,1.57),(111.6,0.6),(112.2,0.69),(112.8,0.56),(113.4,1.1),(113.9,0.15),(114.5,0.9),(114.9,-0.05),(115.5,0.63),(116.0,1.23),(116.6,0.9),(117.2,0.29),(117.7,0.02),(118.3,-0.25),(118.7,0.83),(119.3,0.63),(120.0,0.76),(120.6,0.96),(121.2,1.57),(121.8,0.63),(122.3,0.56),(122.9,-0.38),(123.3,-0.96),(123.9,0.29),(124.4,1.1),(125.0,0.15),(125.6,0.96),(126.1,1.5),(126.5,1.16),(127.1,0.02),(127.7,-0.2),(128.4,-1.53),(129.0,0.56),(129.6,0.49),(130.2,1.77),(130.5,1.37),(131.1,-0.11),(131.7,0.29),(132.3,-0.38),(132.8,-0.52),(133.4,-1.06),(133.8,-1.33),(134.4,-0.05),(134.8,-0.3)]

S4_ENV = [(0.3,-1.02),(3.4,-1.02),(3.8,-0.69),(4.6,-0.82),(5.3,-0.86),(6.1,-0.75),(6.8,-0.59),(7.6,-0.32),(8.2,0.29),(8.7,1.16),(9.3,1.77),(9.9,1.74),(10.5,1.94),(11.0,1.5),(11.6,1.37),(12.0,1.03),(12.2,-0.32),(13.0,-0.52),(13.7,-0.52),(14.9,-0.59),(16.0,-0.59),(16.8,-0.59),(17.5,-0.38),(18.3,-0.55),(19.1,-0.55),(19.8,-0.59),(20.4,0.02),(21.0,0.83),(21.4,1.5),(21.9,0.9),(22.3,-0.25),(22.9,-0.59),(24.0,-0.62),(25.2,-0.59),(26.3,-0.52),(27.1,-0.38),(27.8,-0.05),(28.4,-0.32),(29.0,-0.28),(30.1,-0.22),(30.5,-0.25),(30.9,-0.96),(32.0,-0.96),(33.2,-0.96),(34.3,-0.92),(35.5,-0.9),(36.6,-0.99),(37.4,-0.82),(38.1,-0.79),(38.9,-0.82),(39.3,-0.25),(39.7,0.09),(40.0,-0.05),(40.6,0.29),(41.2,0.76),(41.8,1.23),(42.3,1.84),(42.7,2.78),(43.0,3.25),(43.5,2.71),(43.9,1.16),(44.2,-0.72),(45.0,-0.75),(45.8,-0.86),(46.5,-0.92),(47.3,-0.79),(48.3,-0.75),(48.6,1.1),(49.2,2.51),(49.6,2.17),(50.0,1.7),(50.4,1.23),(50.9,-0.86),(51.5,0.09),(52.1,-0.25),(52.6,-0.3),(53.2,-0.59),(53.8,-0.65),(54.4,-0.79),(55.1,-0.86),(55.9,-0.72),(56.5,-0.65),(57.0,-0.45),(57.6,-0.7),(58.4,-0.62),(59.1,-0.25),(59.9,-0.72),(60.7,-0.7),(61.6,-0.05),(62.2,-0.72),(63.0,-0.25),(63.7,-0.65),(64.5,-0.79),(65.2,-0.8),(66.0,-0.35),(66.8,-0.86),(67.5,-0.86),(68.7,-0.86),(69.8,-0.92),(71.0,-0.86),(71.7,-0.86),(72.1,-0.59),(72.9,-0.72),(73.5,-0.38),(74.0,-0.45),(74.4,-0.35),(74.8,-0.79),(75.5,-0.75),(76.3,-0.72),(77.1,-0.62),(77.8,-0.92),(78.6,-0.65),(79.2,-0.18),(79.8,-0.25),(80.3,-0.32),(80.9,-0.38),(81.7,-0.59),(82.4,-0.35),(82.8,-0.65),(83.2,-0.86),(84.3,-0.92),(85.5,-0.96),(85.9,-0.9),(86.2,1.03),(86.5,2.85),(86.8,2.75),(87.2,2.38),(87.6,2.75),(88.0,1.5),(88.4,0.42),(88.9,0.69),(89.7,1.16),(90.4,1.03),(91.2,1.23),(91.6,0.02),(92.2,0.02),(92.4,3.42),(92.7,2.38),(93.1,2.04),(93.5,1.5),(93.9,0.02),(94.5,-0.72),(94.8,-0.75),(95.2,0.42),(95.6,1.5),(96.2,0.96),(96.7,1.03),(97.1,0.0),(97.7,0.9),(98.3,0.05),(98.8,0.76),(99.4,-0.25),(100.0,-0.32),(100.6,1.23),(101.1,0.42),(101.7,1.5),(102.3,1.5),(102.9,1.97),(103.2,1.43),(103.8,1.6),(104.4,0.42),(105.0,0.69),(105.5,1.9),(106.1,1.1),(106.7,1.64),(107.2,1.1),(107.8,2.38),(108.0,2.51),(108.4,2.04),(108.8,1.5),(109.2,1.33),(109.5,1.84),(110.1,1.57),(110.7,1.7),(111.3,1.84),(111.8,2.11),(112.4,1.77),(113.0,1.74),(113.5,1.16),(114.1,0.86),(114.7,1.7),(115.3,1.3),(115.8,1.84),(116.6,2.11),(117.2,1.64),(117.7,1.7),(118.3,0.76),(118.7,0.02),(119.1,-0.18),(119.7,-0.05),(120.2,-0.18),(120.8,-0.25),(121.4,0.56),(122.0,0.86),(122.5,0.56),(123.1,0.02),(123.7,-0.52),(124.2,-0.11),(124.8,-0.32),(125.4,-0.25),(126.0,0.29),(126.5,0.15),(127.1,-0.11),(127.7,-0.25),(128.2,-0.52),(128.8,-0.75),(129.4,-0.86),(130.0,-0.45),(130.5,-0.59),(131.1,-0.86),(131.9,-0.89),(132.6,-0.89),(133.4,-0.99),(134.8,-0.99)]

SERIES_NAMES = ["First presentation", "Second presentation", "Soundwave envelope"]
PANEL_TITLES = ["Speed 2 gamma band LFPs", "Speed 4 gamma band LFPs"]
PANEL_LETTERS = ["A", "B"]
Y_TICKS_AB = [-2, -1, 0, 1, 2, 3, 4]
Y_TICKS_C = [-2, -1, 0, 1, 2, 3]
X_TICKS_1 = [20, 40, 60, 80, 100, 120]
X_TICKS_2 = [140, 160, 180, 200, 220, 240, 260]

# ---------------- figure ----------------
W = H = 1241
FONT = "DejaVu Sans"
COLORS = ["#0000ff", "#ff0000", "#000000"]
WIDTHS = [1.7, 1.7, 1.5]


def fx(p):
    return p / W


def fy(p):
    return 1 - p / H


fig = go.Figure()
panels = [
    ((S2A_BLUE, S2A_RED, S2A_ENV), "x", "y"),
    ((S2B_BLUE, S2B_RED, S2B_ENV), "x2", "y2"),
    ((S4_BLUE, S4_RED, S4_ENV), "x3", "y3"),
]
for series, xa, ya in panels:
    for k, pts in enumerate(series):
        fig.add_trace(go.Scatter(
            x=[p[0] for p in pts], y=[p[1] for p in pts], mode="lines",
            name=SERIES_NAMES[k], line=dict(color=COLORS[k], width=WIDTHS[k]),
            xaxis=xa, yaxis=ya, showlegend=False, hoverinfo="skip"))

tickfont = dict(family=FONT, size=17, color="black", weight="bold")
axis_common = dict(showline=True, linecolor="#444", linewidth=1.2, mirror="allticks",
                   ticks="inside", ticklen=6, tickcolor="#444", tickwidth=1.2,
                   showgrid=False, zeroline=False, tickfont=tickfont)

xdom = [fx(58), fx(1232)]
ydoms = [[fy(382), fy(38)], [fy(760), fy(415)], [fy(1182), fy(836)]]

fig.update_layout(
    width=W, height=H, margin=dict(l=0, r=0, t=0, b=0),
    paper_bgcolor="white", plot_bgcolor="white",
    font=dict(family=FONT, color="black"), showlegend=False,
    xaxis=dict(domain=xdom, anchor="y", range=[0, 135], tickvals=X_TICKS_1, **axis_common),
    yaxis=dict(domain=ydoms[0], anchor="x", range=[-3, 5], tickvals=Y_TICKS_AB,
               ticktext=[str(v) for v in Y_TICKS_AB], **axis_common),
    xaxis2=dict(domain=xdom, anchor="y2", range=[134.8, 269.8], tickvals=X_TICKS_2, **axis_common),
    yaxis2=dict(domain=ydoms[1], anchor="x2", range=[-3, 5], tickvals=Y_TICKS_AB,
                ticktext=[str(v) for v in Y_TICKS_AB], **axis_common),
    xaxis3=dict(domain=xdom, anchor="y3", range=[0.3, 134.8], tickvals=X_TICKS_1, **axis_common),
    yaxis3=dict(domain=ydoms[2], anchor="x3", range=[-3, 4], tickvals=Y_TICKS_C,
                showticklabels=False, **axis_common),
)

bold = lambda s: dict(family=FONT, size=s, color="black", weight="bold")
ann = []
ann.append(dict(text=PANEL_TITLES[0], x=fx(644), y=fy(20), font=bold(25), xanchor="center"))
ann.append(dict(text=PANEL_TITLES[1], x=fx(644), y=fy(818), font=bold(25), xanchor="center"))
ann.append(dict(text=PANEL_LETTERS[0], x=fx(30), y=fy(35), font=bold(25), xanchor="center"))
ann.append(dict(text=PANEL_LETTERS[1], x=fx(28), y=fy(812), font=bold(25), xanchor="center"))
ann.append(dict(text="Time (sec)", x=fx(641), y=fy(1225), font=bold(19), xanchor="center"))
for yc in (211, 590, 1011):
    ann.append(dict(text="Standard deviation", x=fx(22), y=fy(yc), textangle=-90,
                    font=bold(18.5), xanchor="center"))

# legend drawn inside panel A (box, line samples, labels)
shapes = [dict(type="rect", xref="paper", yref="paper", x0=fx(88), x1=fx(489),
               y0=fy(170), y1=fy(66), line=dict(color="black", width=2),
               fillcolor="white", layer="above")]
leg_rows = [82, 114, 151]
for k, yr in enumerate(leg_rows):
    shapes.append(dict(type="line", xref="paper", yref="paper", x0=fx(110), x1=fx(160),
                       y0=fy(yr), y1=fy(yr), line=dict(color=COLORS[k], width=3.5),
                       layer="above"))
    ann.append(dict(text=SERIES_NAMES[k], x=fx(168), y=fy(yr), font=bold(25), xanchor="left"))

for a in ann:
    a.update(xref="paper", yref="paper", showarrow=False, yanchor="middle")
fig.update_layout(annotations=ann, shapes=shapes)

fig.write_html("out.html")
